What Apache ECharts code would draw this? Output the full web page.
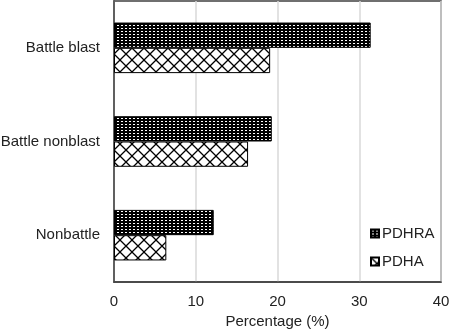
<!DOCTYPE html>
<html>
<head>
<meta charset="utf-8">
<script src="https://cdn.jsdelivr.net/npm/echarts@6/dist/echarts.min.js"></script>
<style>
  html, body { margin: 0; padding: 0; background: #fff; }
  #chart { width: 450px; height: 332px; }
</style>
</head>
<body>
<div id="chart"></div>
<script>
// Injury categories, bottom to top on the vertical axis
const categories = ['Nonbattle', 'Battle nonblast', 'Battle blast'];
// Percentage reporting, per survey
const pdhraValues = [12.2, 19.3, 31.4];
const pdhaValues = [6.4, 16.4, 19.1];
const seriesNames = ['PDHRA', 'PDHA'];
const xTicks = [0, 10, 20, 30, 40];

// Dark fill with a regular grid of small white dots
function dotPattern() {
  const c = document.createElement('canvas');
  c.width = 4; c.height = 3;
  const g = c.getContext('2d');
  g.fillStyle = '#000';
  g.fillRect(0, 0, 4, 3);
  g.fillStyle = '#fff';
  g.fillRect(1, 1, 2, 1);
  return c;
}

// White fill with black diagonal cross-hatch (diamonds)
function diamondPattern() {
  const s = 12;
  const c = document.createElement('canvas');
  c.width = s; c.height = s;
  const g = c.getContext('2d');
  g.fillStyle = '#fff';
  g.fillRect(0, 0, s, s);
  g.strokeStyle = '#000';
  g.lineWidth = 1.3;
  g.beginPath();
  g.moveTo(-2, -2); g.lineTo(s + 2, s + 2);
  g.moveTo(s + 2, -2); g.lineTo(-2, s + 2);
  g.stroke();
  return c;
}

const chart = echarts.init(document.getElementById('chart'), null, { renderer: 'canvas' });
const font = 'Liberation Sans, Arial, sans-serif';

chart.setOption({
  animation: false,
  textStyle: { fontFamily: font },
  grid: {
    left: 114, right: 9, top: 1, bottom: 50,
    containLabel: false, outerBoundsMode: 'none',
    show: true, borderColor: '#404040', borderWidth: 1.5, backgroundColor: 'transparent'
  },
  legend: {
    data: seriesNames,
    orient: 'vertical',
    left: 365, top: 221,
    itemWidth: 8, itemHeight: 8, itemGap: 13,
    icon: 'rect',
    textStyle: { fontSize: 15, color: '#222', fontFamily: font, padding: [0, 0, 0, -2] }
  },
  xAxis: {
    type: 'value',
    min: xTicks[0], max: xTicks[xTicks.length - 1], interval: 10,
    name: 'Percentage (%)',
    nameLocation: 'middle', nameGap: 31,
    nameTextStyle: { fontSize: 15, color: '#222' },
    axisLine: { show: true, lineStyle: { color: '#404040', width: 1.5 } },
    axisTick: { show: false },
    axisLabel: { fontSize: 15, color: '#222', margin: 12 },
    splitLine: { show: true, lineStyle: { color: '#d9d9d9', width: 1.5 } }
  },
  yAxis: {
    type: 'category',
    data: categories,
    axisLine: { show: true, lineStyle: { color: '#404040', width: 1.5 } },
    axisTick: { show: false },
    axisLabel: { fontSize: 15, color: '#222', margin: 14 },
    splitLine: { show: false }
  },
  series: [
    {
      name: 'PDHRA', type: 'bar', data: pdhraValues,
      barGap: '0%', barCategoryGap: '46%',
      itemStyle: { color: { image: dotPattern(), repeat: 'repeat' }, borderColor: '#000', borderWidth: 1 }
    },
    {
      name: 'PDHA', type: 'bar', data: pdhaValues,
      barGap: '0%', barCategoryGap: '46%',
      itemStyle: { color: { image: diamondPattern(), repeat: 'repeat' }, borderColor: '#000', borderWidth: 1 }
    }
  ]
});
</script>
</body>
</html>
